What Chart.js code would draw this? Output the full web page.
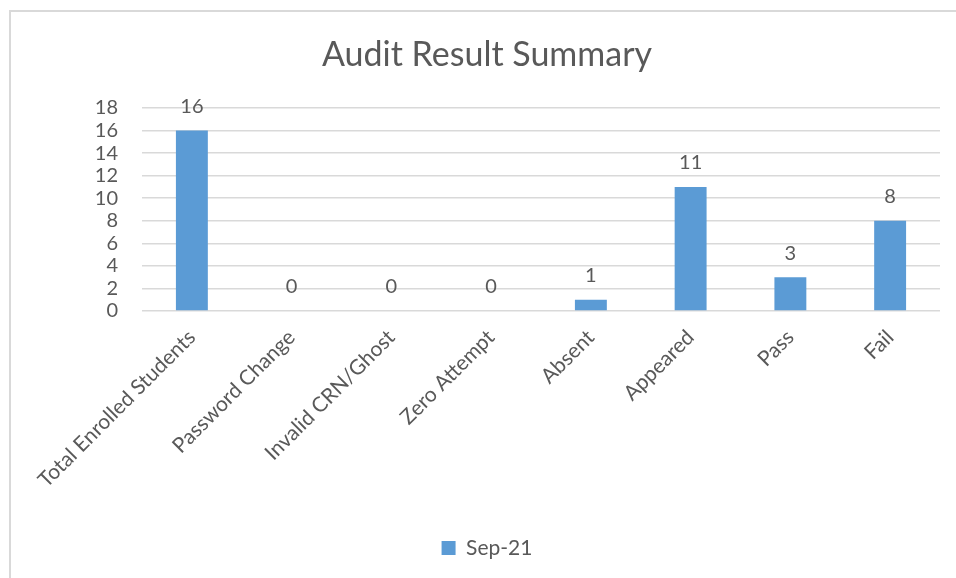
<!DOCTYPE html>
<html>
<head>
<meta charset="utf-8">
<script src="https://cdn.jsdelivr.net/npm/chart.js@4"></script>
<style>
  html, body { margin: 0; padding: 0; background: #fff; overflow: hidden; }
  .frame {
    position: absolute;
    left: 9px;
    top: 10px;
    width: 945px;
    height: 566px;
    border-left: 2px solid #d9d9d9;
    border-top: 2px solid #d9d9d9;
  }
</style>
</head>
<body>
<div class="frame">
  <canvas id="auditChart" width="945" height="566"></canvas>
</div>
<script>
// データ
const categories = ["Total Enrolled Students", "Password Change", "Invalid CRN/Ghost", "Zero Attempt", "Absent", "Appeared", "Pass", "Fail"];
const seriesName = "Sep-21";
const seriesValues = [16, 0, 0, 0, 1, 11, 3, 8];
const yTicks = [0, 2, 4, 6, 8, 10, 12, 14, 16, 18];

const textColor = "#595959";
const barColor = "#5b9bd5";
const fontFamily = "Lato, 'Open Sans', sans-serif";

// 棒の上に値を表示するプラグイン
const valueLabelPlugin = {
  id: "valueLabels",
  afterDatasetsDraw(chart) {
    const ctx = chart.ctx;
    ctx.save();
    ctx.font = `20px ${fontFamily}`;
    ctx.fillStyle = textColor;
    ctx.textAlign = "center";
    ctx.textBaseline = "middle";
    chart.getDatasetMeta(0).data.forEach((bar, i) => {
      ctx.fillText(String(seriesValues[i]), bar.x, bar.y - 24);
    });
    ctx.restore();
  },
};

new Chart(document.getElementById("auditChart"), {
  type: "bar",
  data: {
    labels: categories,
    datasets: [
      {
        label: seriesName,
        data: seriesValues,
        backgroundColor: barColor,
        borderWidth: 0,
        categoryPercentage: 1,
        barPercentage: 0.32,
      },
    ],
  },
  options: {
    responsive: false,
    animation: false,
    layout: {
      padding: { left: 23, right: 16, top: 0, bottom: 9.5 },
    },
    plugins: {
      title: {
        display: true,
        text: "Audit Result Summary",
        color: textColor,
        font: { size: 34, family: fontFamily, weight: "normal" },
        padding: { top: 22.6, bottom: 32.6 },
      },
      legend: {
        position: "bottom",
        labels: {
          color: textColor,
          font: { size: 21, family: fontFamily },
          boxWidth: 14,
          boxHeight: 14,
          padding: 10,
        },
      },
      tooltip: { enabled: false },
    },
    scales: {
      x: {
        grid: { display: false, drawTicks: false },
        border: { display: false },
        ticks: {
          color: textColor,
          font: { size: 21, family: fontFamily },
          maxRotation: 45,
          minRotation: 45,
          autoSkip: false,
          padding: 14,
        },
        afterFit(scale) {
          scale.height = 216.5;
        },
      },
      y: {
        min: 0,
        max: 18,
        afterBuildTicks(scale) {
          scale.ticks = yTicks.map((v) => ({ value: v }));
        },
        grid: { color: "#d9d9d9", lineWidth: 1.5, drawTicks: false },
        border: { display: false },
        ticks: {
          color: textColor,
          font: { size: 20, family: fontFamily },
          autoSkip: false,
          padding: 24,
        },
        afterFit(scale) {
          scale.width = 108;
        },
      },
    },
  },
  plugins: [valueLabelPlugin],
});
</script>
</body>
</html>
